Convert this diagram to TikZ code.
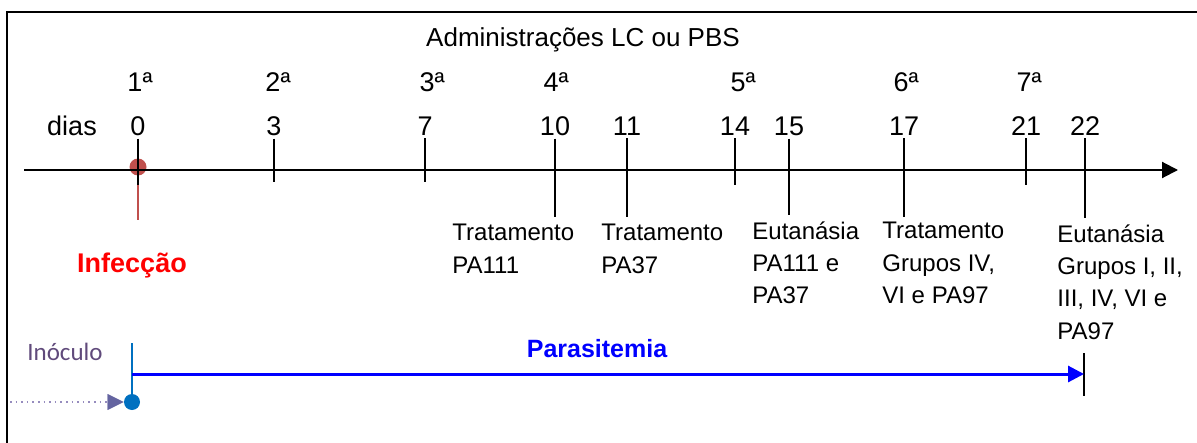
\documentclass[tikz,border=0pt]{standalone}
\usepackage{fontspec}
\setmainfont{Liberation Sans}
\newfontfamily\inofont{Carlito}
\usetikzlibrary{arrows.meta, calc}
\definecolor{infred}{RGB}{192,80,77}
\definecolor{inoblue}{RGB}{0,112,192}
\definecolor{inopurple}{RGB}{96,74,123}
\definecolor{dotpurple}{RGB}{150,140,190}
\definecolor{tippurple}{RGB}{100,100,160}
\tikzset{
  frame/.style={line width=1pt, black},
  axisline/.style={line width=1pt, -{Triangle[length=8pt, width=8pt]}},
  daytick/.style={line width=0.9pt},
  daynum/.style={anchor=base, inner sep=1pt, font=\fontsize{13.5}{15}\selectfont},
  dose/.style={anchor=base, inner sep=1pt, font=\fontsize{13.5}{15}\selectfont},
  event/.style={
    anchor=north west, inner sep=0pt, align=left,
    font=\fontsize{12}{16.2}\selectfont
  },
  reddot/.style={circle, fill=infred, minimum size=8.5pt, inner sep=0pt},
  bluedot/.style={circle, fill=inoblue, minimum size=8pt, inner sep=0pt},
  paraarrow/.style={line width=1.5pt, blue, -{Triangle[length=8pt, width=8pt]}}
}

\begin{document}
\begin{tikzpicture}[x=0.5pt, y=-0.5pt]
  \useasboundingbox (0,0) rectangle (1197,443);
  \draw[frame] (7,443) -- (7,12) -- (1197,12);

  \node[anchor=base, font=\fontsize{13}{15}\selectfont] (title) at (583,47) {Administrações LC ou PBS};
  \node[daynum] (dias) at (72,136) {dias};

  % doses
  \foreach \n/\x in {1/140, 2/278, 3/432, 4/556, 5/743, 6/906, 7/1029}
    \node[dose] (dose\n) at (\x,92) {\n ª};

  % time axis
  \coordinate (axisstart) at (24,170);
  \coordinate (axisend) at (1178,170);
  \node[reddot] (infdot) at (138,167) {};
  \coordinate (infend) at (138,220);
  \draw[infred, line width=1.3pt] (infdot.center) -- (infend);
  \draw[axisline] (axisstart) -- (axisend);
  \foreach \d/\x/\bot in {0/138/185, 3/274/182, 7/425/182, 10/555/217, 11/627/217,
                          14/735/185, 15/789/215, 17/904/217, 21/1026/185, 22/1085/218} {
    \node[daynum] (day\d) at (\x,136) {\d};
    \coordinate (tick\d) at (\x,\bot);
    \draw[daytick] (day\d.south) -- (tick\d);
  }

  % events
  \node[event] (ev10) at (452,224) {Tratamento\\PA111};
  \node[event] (ev11) at (601,224) {Tratamento\\PA37};
  \node[event] (ev15) at (752,221) {Eutanásia\\PA111 e\\PA37};
  \node[event] (ev17) at (882,222) {Tratamento\\Grupos IV,\\VI e PA97};
  \node[event] (ev22) at (1057,224) {Eutanásia\\Grupos I, II,\\III, IV, VI e\\PA97};

  \node[anchor=base, text=red, font=\bfseries\fontsize{13.5}{15}\selectfont] (infec) at (132,272) {Infecção};

  % parasitemia
  \node[anchor=base, text=inopurple, font=\inofont\fontsize{12.5}{15}\selectfont] (inoc) at (65,360) {Inóculo};
  \node[anchor=base, text=blue, font=\bfseries\fontsize{12.5}{15}\selectfont] (para) at (597,357) {Parasitemia};
  \node[bluedot] (inodot) at (132,402) {};
  \coordinate (inostart) at (10,402);
  \coordinate (inotop) at (132,343);
  \coordinate (paraleft) at (132,374);
  \coordinate (endtop) at (1084,353);
  \coordinate (endbot) at (1084,396);
  \draw[dotpurple, line width=0.8pt, dotted] (inostart) -- ($(inodot.west)+(-10,0)$);
  \draw[tippurple, -{Triangle[length=8pt, width=8pt]}, line width=0.1pt] ($(inodot.west)+(-11,0)$) -- (inodot.west);
  \draw[inoblue, line width=1pt] (inodot.center) -- (inotop);
  \draw[line width=1pt] (endtop) -- (endbot);
  \draw[paraarrow] (paraleft) -- (endtop |- paraleft);
\end{tikzpicture}
\end{document}
